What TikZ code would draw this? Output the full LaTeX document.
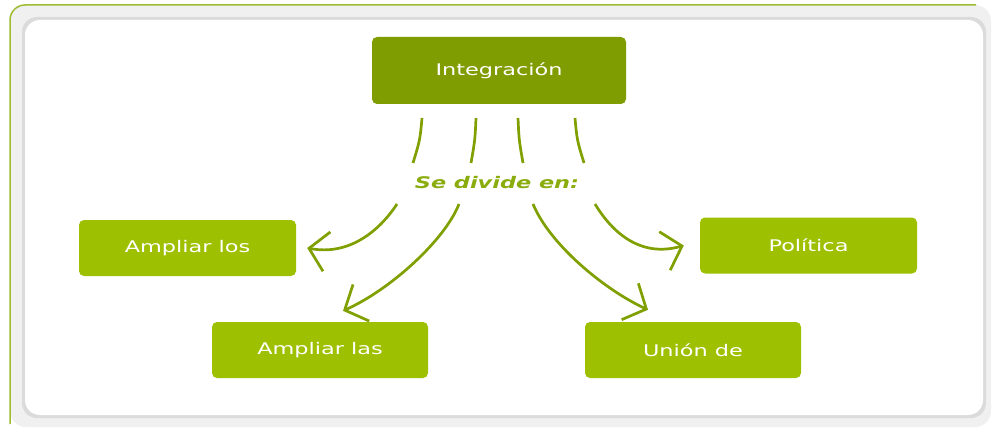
\documentclass[tikz,border=0pt]{standalone}
\usepackage{fontspec}
\setmainfont{DejaVu Sans}
\usepackage{graphicx}
\usetikzlibrary{arrows.meta}

\definecolor{oliva}{RGB}{127,156,0}
\definecolor{lima}{RGB}{157,192,0}
\definecolor{trazo}{RGB}{128,160,0}
\definecolor{rotulo}{RGB}{138,172,12}
\definecolor{marco}{RGB}{158,188,48}

\newcommand{\ancho}[1]{\scalebox{1.4}[1]{#1}}

\tikzset{
	caja/.style={fill=lima, rounded corners=5pt, minimum width=217pt, minimum height=56pt,
		inner sep=0pt, text=white, font=\fontsize{16}{19}\selectfont},
	flecha/.style={trazo, line width=2.7pt, -{Straight Barb[length=18pt, width=40pt]}},
	raya/.style={trazo, line width=2.7pt},
}

\begin{document}
\begin{tikzpicture}[x=1pt, y=-1pt]
\useasboundingbox (0,0) rectangle (994,428);

%% Marco
\fill[gray!12, rounded corners=16pt] (10,5) rectangle (991,427);
\fill[gray!28, rounded corners=15pt] (22,17) rectangle (986,418);
\fill[white, rounded corners=15pt] (25,20) rectangle (983,415);
\draw[marco, line width=1.5pt, rounded corners=15pt] (10,424) -- (10,5) -- (976,5);

%% Cajas
\node[caja, fill=oliva, minimum width=254pt, minimum height=67pt] (integ) at (499,70.5) {\ancho{Integración}};
\node[caja] (los) at (187.5,248) {\ancho{Ampliar los}};
\node[caja, minimum width=216pt] (las) at (320,350) {\ancho{Ampliar las}};
\node[caja] (pol) at (808.5,245.5) {\ancho{Política}};
\node[caja, minimum width=216pt] (union) at (693,350) {\ancho{Unión de}};

\node[text=rotulo, font=\fontsize{16}{19}\selectfont\bfseries\itshape] (div) at (497,183) {\ancho{Se divide en:}};

%% Rayas
\coordinate (r1a) at (422,118); \coordinate (r1b) at (413,163);
\coordinate (r2a) at (476,118); \coordinate (r2b) at (471,163);
\coordinate (r3a) at (518,118); \coordinate (r3b) at (523,163);
\coordinate (r4a) at (575,118); \coordinate (r4b) at (584,163);
\draw[raya] (r1a) .. controls (420,140) .. (r1b);
\draw[raya] (r2a) .. controls (475,140) .. (r2b);
\draw[raya] (r3a) .. controls (519,140) .. (r3b);
\draw[raya] (r4a) .. controls (577,140) .. (r4b);

%% Flechas
\coordinate (f1) at (397,204);
\coordinate (f2) at (459,204);
\coordinate (f3) at (533,204);
\coordinate (f4) at (595,204);
\draw[flecha] (f1) .. controls (380,230) and (350,256) .. ([xshift=11pt]los.east);
\draw[flecha] (f2) .. controls (445,240) and (390,290) .. ([xshift=23pt,yshift=11pt]las.north);
\draw[flecha] (f3) .. controls (550,245) and (605,290) .. ([xshift=-45pt,yshift=12pt]union.north);
\draw[flecha] (f4) .. controls (612,232) and (640,258) .. ([xshift=-16pt]pol.west);

\end{tikzpicture}
\end{document}
